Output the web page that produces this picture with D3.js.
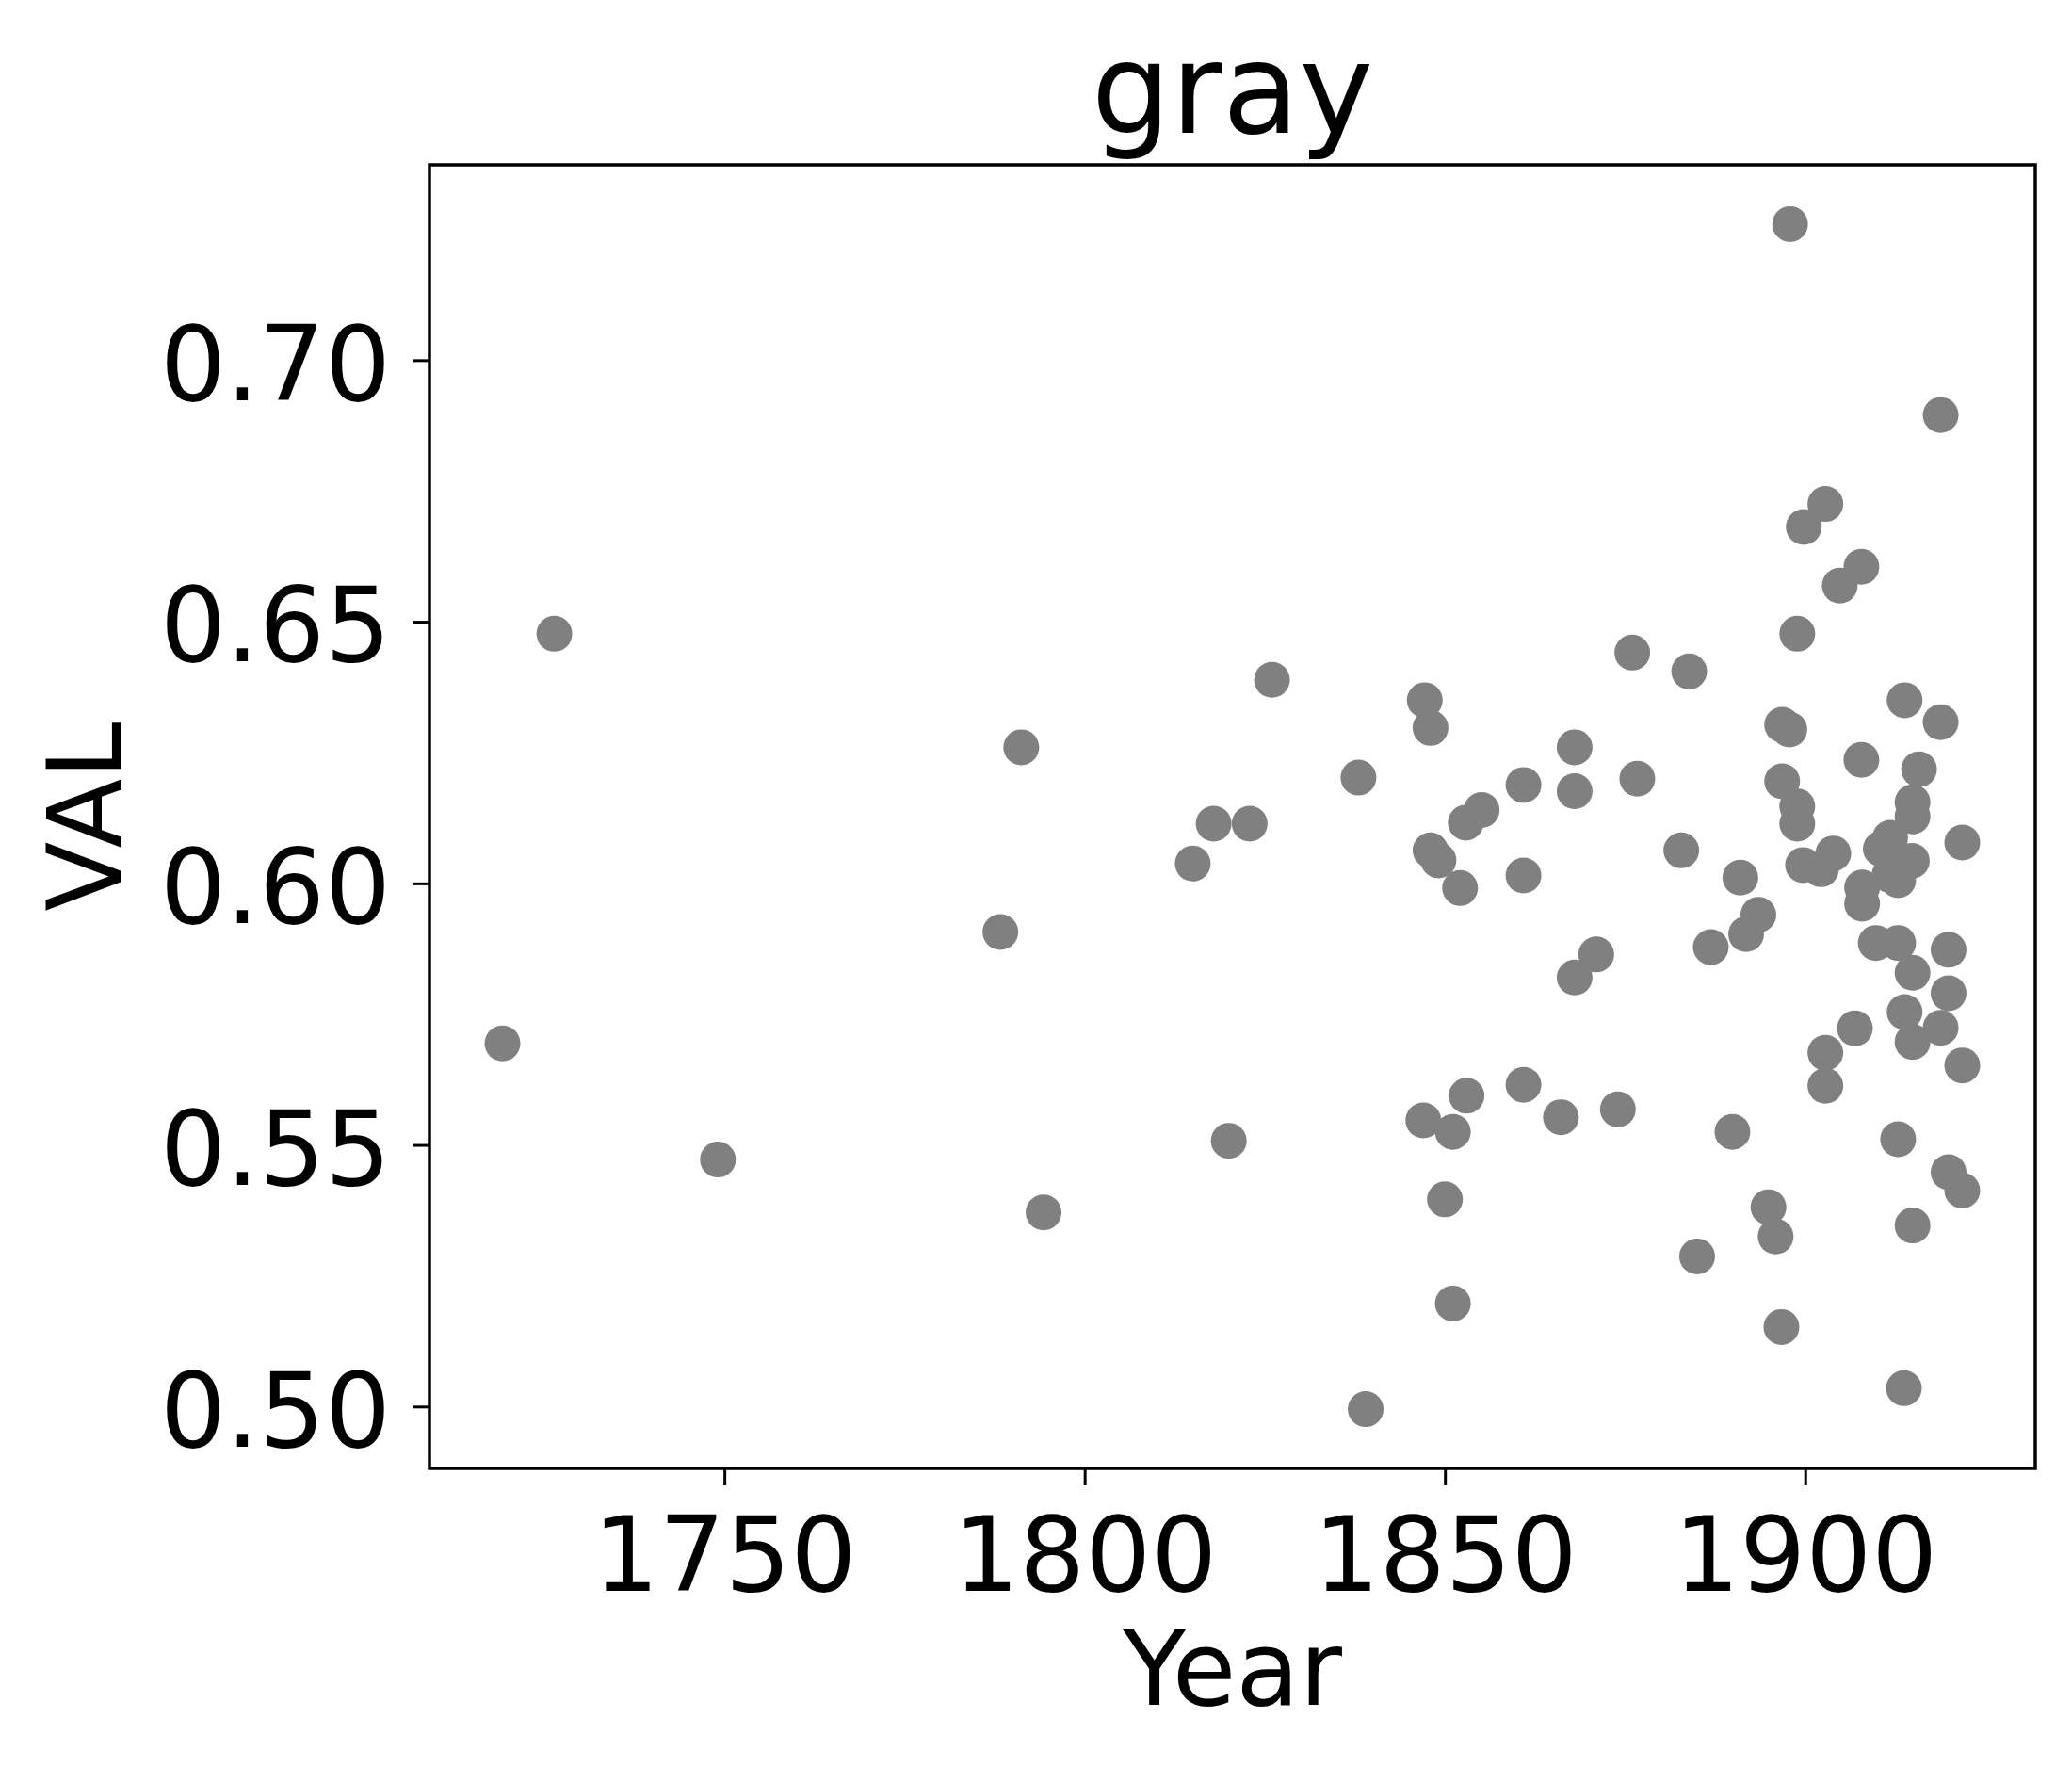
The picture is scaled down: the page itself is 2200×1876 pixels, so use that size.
<!DOCTYPE html>
<html lang="en">
<head>
    <meta charset="utf-8">
    <title>gray</title>
    <script src="https://cdn.jsdelivr.net/npm/d3@7"></script>
    <style>
        body {
            margin: 0;
            background-color: #ffffff;
            font-family: 'DejaVu Sans', sans-serif;
        }
        svg { display: block; }
    </style>
</head>

<body>
    <svg id="chart"></svg>

    <script>
    // values
    var years = [
        1719.2, 1726.4, 1749.1, 1788.3, 1791.2, 1794.3, 1815.0, 1817.9, 1820.0, 1822.9,
        1826.0, 1838.0, 1839.0, 1847.2, 1848.0, 1848.0, 1849.1, 1847.0, 1850.0, 1851.1,
        1851.1, 1852.1, 1852.9, 1855.1, 1853.0, 1860.9, 1860.9, 1860.9, 1866.1, 1868.0,
        1868.0, 1868.0, 1871.0, 1874.0, 1876.0, 1876.7, 1882.8, 1883.9, 1885.0, 1886.9,
        1889.9, 1891.0, 1891.8, 1893.5, 1894.9, 1895.9, 1896.7, 1896.8, 1897.8, 1896.8,
        1897.9, 1898.9, 1898.9, 1898.9, 1899.8, 1899.7, 1902.8, 1902.2, 1903.9, 1902.8,
        1902.8, 1904.8, 1906.9, 1907.8, 1907.8, 1907.9, 1907.9, 1909.8, 1910.5, 1911.8,
        1911.7, 1912.9, 1912.9, 1913.8, 1913.8, 1912.9, 1913.7, 1914.9, 1914.9, 1914.9,
        1914.9, 1914.9, 1915.8, 1914.8, 1918.8, 1918.8, 1918.8, 1919.9, 1919.9, 1919.9,
        1921.8, 1921.8, 1921.8
    ];
    var vals = [
        0.5694, 0.6477, 0.5472, 0.5907, 0.6260, 0.5371, 0.6038, 0.6114, 0.5508, 0.6114,
        0.6389, 0.6202, 0.4995, 0.6350, 0.6297, 0.6063, 0.6044, 0.5547, 0.5396, 0.5525,
        0.5197, 0.5991, 0.6116, 0.6140, 0.5594, 0.6188, 0.6015, 0.5615, 0.5553, 0.6260,
        0.6176, 0.5820, 0.5864, 0.5568, 0.6441, 0.6200, 0.6063, 0.6405, 0.5287, 0.5878,
        0.5525, 0.6011, 0.5903, 0.5940, 0.5381, 0.5325, 0.5152, 0.6303, 0.6294, 0.6195,
        0.7260, 0.6477, 0.6147, 0.6114, 0.6681, 0.6035, 0.6725, 0.6027, 0.6057, 0.5676,
        0.5613, 0.6569, 0.5723, 0.6605, 0.6236, 0.5992, 0.5961, 0.5886, 0.6066, 0.6087,
        0.6016, 0.6006, 0.5886, 0.6350, 0.5754, 0.5511, 0.5035, 0.6155, 0.6128, 0.5829,
        0.5697, 0.5346, 0.6218, 0.6043, 0.6895, 0.6308, 0.5724, 0.5873, 0.5790, 0.5448,
        0.6078, 0.5652, 0.5413
    ];
    var xTicks = [1750, 1800, 1850, 1900];
    var yTicks = [0.50, 0.55, 0.60, 0.65, 0.70];

    var width = 2200, height = 1876;
    var margin = { top: 175, right: 39, bottom: 317, left: 456 };
    var innerW = width - margin.left - margin.right;
    var innerH = height - margin.top - margin.bottom;

    var points = years.map(function(y, i) { return { year: y, val: vals[i] }; });

    // pad the data range by 5% each side, like matplotlib's default margins
    function padded(ext) {
        var p = (ext[1] - ext[0]) * 0.05;
        return [ext[0] - p, ext[1] + p];
    }

    var x = d3.scaleLinear()
        .domain(padded(d3.extent(years)))
        .range([0, innerW]);

    var y = d3.scaleLinear()
        .domain(padded(d3.extent(vals)))
        .range([innerH, 0]);

    var svg = d3.select('#chart')
        .attr('width', width)
        .attr('height', height);

    var g = svg.append('g')
        .attr('transform', 'translate(' + margin.left + ',' + margin.top + ')');

    // axes
    var xAxis = g.append('g')
        .attr('transform', 'translate(0,' + innerH + ')')
        .call(d3.axisBottom(x).tickValues(xTicks).tickFormat(d3.format('d'))
            .tickSize(18).tickPadding(34));

    var yAxis = g.append('g')
        .call(d3.axisLeft(y).tickValues(yTicks).tickFormat(d3.format('.2f'))
            .tickSize(18).tickPadding(23));

    [xAxis, yAxis].forEach(function(a) {
        a.select('.domain').remove();
        a.selectAll('.tick line').attr('stroke', '#000').attr('stroke-width', 3);
        a.selectAll('.tick text')
            .attr('fill', '#000')
            .style('font-family', "'DejaVu Sans', sans-serif")
            .style('font-size', '110px');
    });
    yAxis.selectAll('.tick text').attr('dy', '0.38em');

    // points
    g.selectAll('circle.pt')
        .data(points)
        .enter().append('circle')
        .attr('class', 'pt')
        .attr('cx', function(d) { return x(d.year); })
        .attr('cy', function(d) { return y(d.val); })
        .attr('r', 19)
        .attr('fill', '#808080');

    // frame
    g.append('rect')
        .attr('x', 0)
        .attr('y', 0)
        .attr('width', innerW)
        .attr('height', innerH)
        .attr('fill', 'none')
        .attr('stroke', '#000')
        .attr('stroke-width', 3.5);

    // title and axis labels
    svg.append('text')
        .attr('x', margin.left + innerW / 2)
        .attr('y', 141)
        .attr('text-anchor', 'middle')
        .style('font-size', '133px')
        .text('gray');

    svg.append('text')
        .attr('x', margin.left + innerW / 2)
        .attr('y', 1810)
        .attr('text-anchor', 'middle')
        .style('font-size', '110px')
        .text('Year');

    svg.append('text')
        .attr('transform', 'translate(128,' + (margin.top + innerH / 2) + ') rotate(-90)')
        .attr('text-anchor', 'middle')
        .style('font-size', '108px')
        .text('VAL');
    </script>
</body>
</html>
